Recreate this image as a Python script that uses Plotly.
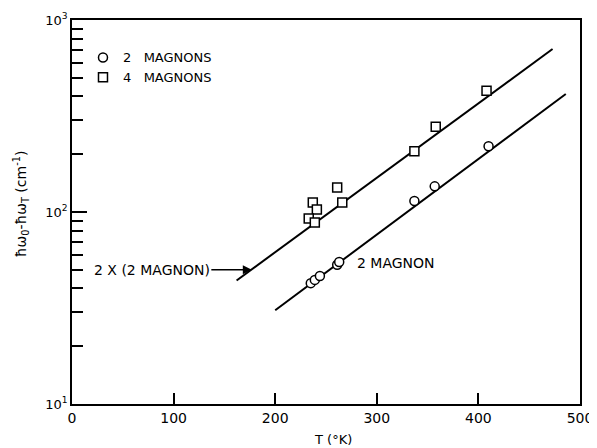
import math
import plotly.graph_objects as go

# ---- data ----
t_2mag = [235, 239, 244, 261, 263, 337, 357, 410]
w_2mag = [42.6, 44.3, 46.4, 53.1, 54.9, 114, 136, 220]

t_4mag = [237, 241, 233, 239, 261, 266, 337, 358, 408]
w_4mag = [112, 103, 92.6, 88.2, 134, 112, 207, 278, 428]

# fitted lines (end points)
t_line_2x = [162, 473]
w_line_2x = [44.0, 706]
t_line_2 = [200, 486]
w_line_2 = [30.8, 412]

x_ticks = [0, 100, 200, 300, 400, 500]
y_ticks = [10, 100, 1000]
y_ticktext = ["10<sup>1</sup>", "10<sup>2</sup>", "10<sup>3</sup>"]
y_minor = [20, 30, 40, 50, 60, 70, 80, 90, 200, 300, 400, 500, 600, 700, 800, 900]

FONT = "DejaVu Sans"

fig = go.Figure()
fig.add_trace(go.Scatter(x=t_line_2x, y=w_line_2x, mode="lines",
                         line=dict(color="black", width=2), showlegend=False, hoverinfo="skip"))
fig.add_trace(go.Scatter(x=t_line_2, y=w_line_2, mode="lines",
                         line=dict(color="black", width=2), showlegend=False, hoverinfo="skip"))
fig.add_trace(go.Scatter(x=t_2mag, y=w_2mag, mode="markers", name="2\u00a0\u00a0\u00a0MAGNONS",
                         marker=dict(symbol="circle", size=9, color="white",
                                     line=dict(color="black", width=1.5))))
fig.add_trace(go.Scatter(x=t_4mag, y=w_4mag, mode="markers", name="4\u00a0\u00a0\u00a0MAGNONS",
                         marker=dict(symbol="square", size=9, color="white",
                                     line=dict(color="black", width=1.5))))

# the page body has an 8px margin, so the figure is offset by 8px in the window
OFF = 8
W, H = 589, 440
L, R, T, B = 64, 16.5, 11.5, 44
pw, ph = W - L - R, H - T - B

def px(xw):
    return (xw - OFF - L) / pw

def py(yw):
    return 1 - (yw - OFF - T) / ph

fig.update_layout(
    width=W, height=H,
    margin=dict(l=L, r=R, t=T, b=B, autoexpand=False),
    paper_bgcolor="white", plot_bgcolor="white",
    font=dict(family=FONT, color="black", size=13),
    showlegend=True,
    legend=dict(x=px(83), y=py(42), xanchor="left", yanchor="top",
                bgcolor="rgba(0,0,0,0)", font=dict(size=13, family=FONT),
                itemwidth=30, tracegroupgap=0),
    xaxis=dict(range=[0, 500], tickvals=x_ticks, ticks="inside", ticklen=11,
               tickwidth=1.5, tickcolor="black", showline=True, linecolor="black",
               linewidth=1.5, mirror=True, showgrid=False, zeroline=False,
               automargin=False, tickfont=dict(size=14, family=FONT)),
    yaxis=dict(type="log", range=[1, 3], tickvals=y_ticks, ticktext=y_ticktext,
               ticks="inside", ticklen=15, tickwidth=1.5, tickcolor="black",
               showline=True, linecolor="black", linewidth=1.5, mirror=True,
               showgrid=False, zeroline=False, automargin=False,
               tickfont=dict(size=13, family=FONT),
               minor=dict(tickvals=y_minor, ticks="inside", ticklen=11,
                          tickwidth=1.5, tickcolor="black", showgrid=False)),
    annotations=[
        dict(text="T (\u00b0K)", xref="paper", yref="paper", x=px(333.5), y=py(440),
             showarrow=False, font=dict(size=13, family=FONT), xanchor="center", yanchor="middle"),
        dict(text="\u0127\u03c9<sub>0</sub>-\u0127\u03c9<sub>T</sub> (cm<sup>-1</sup>)",
             xref="paper", yref="paper", x=px(21), y=py(204), textangle=-90,
             showarrow=False, font=dict(size=14, family=FONT), xanchor="center", yanchor="middle"),
        dict(text="2 MAGNON", xref="paper", yref="paper", x=px(396), y=py(263),
             showarrow=False, font=dict(size=14, family=FONT), xanchor="center", yanchor="middle"),
        dict(text="2 X (2 MAGNON)", x=177, y=math.log10(50.1), xref="x", yref="y",
             showarrow=True, axref="pixel", ayref="pixel", ax=-100, ay=0,
             arrowhead=2, arrowsize=1.2, arrowwidth=1.5, arrowcolor="black", standoff=0,
             font=dict(size=14, family=FONT)),
    ],
)

fig.write_html("out.html")
